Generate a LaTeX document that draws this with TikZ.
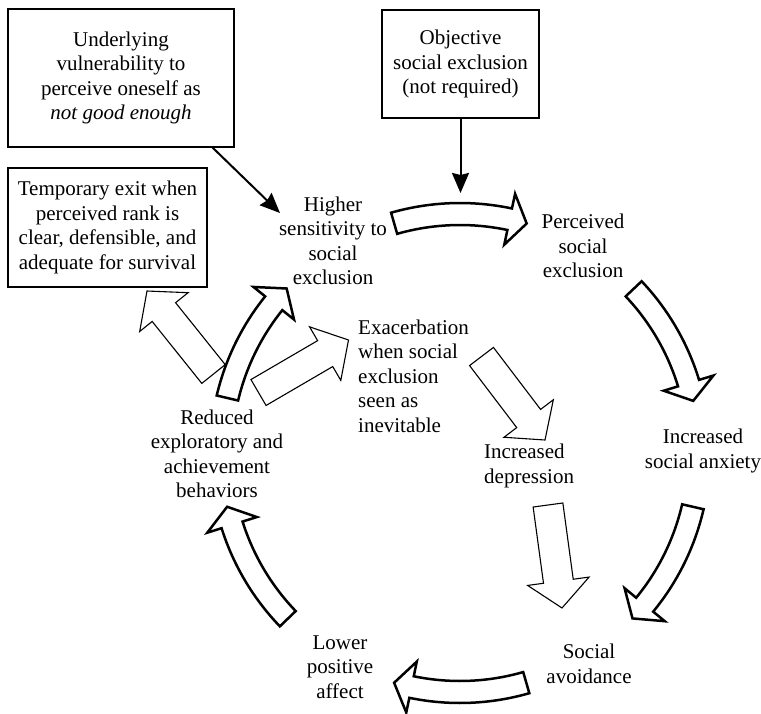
\documentclass[tikz,border=0pt]{standalone}
\usepackage{fontspec}
\setmainfont{Liberation Serif}
\usetikzlibrary{calc,arrows.meta}

\tikzset{
  box/.style={draw, line width=1.2pt, align=center, inner sep=0pt},
  lbl/.style={align=center, inner sep=0pt},
  lbll/.style={align=left, inner sep=0pt},
  cyc/.style={draw, fill=white, line width=2.5pt, line join=miter},
  side/.style={draw, fill=white, line width=1.1pt, line join=miter},
  feed/.style={line width=2pt, -{Stealth[length=20pt,width=17pt,inset=2pt]}}
}

% straight block arrow: #1 tail centre, #2 tip, #3 name of the head base
\newcommand\sidearrow[3]{%
  \coordinate (#3) at ($(#2)!27pt!(#1)$);
  \draw[side] ($(#1)!15pt!90:(#2)$) -- ($(#3)!15pt!90:(#2)$)
    -- ($(#3)!31pt!90:(#2)$) -- (#2) -- ($(#3)!31pt!-90:(#2)$)
    -- ($(#3)!15pt!-90:(#2)$) -- ($(#1)!15pt!-90:(#2)$) -- cycle;}

% curved block arrow on the cycle circle (centre 460,453):
% #1 tail angle, #2 head base angle, #3 tip angle
\newcommand\cyclearrow[3]{%
  \draw[cyc] plot[domain=0:1, samples=25]
      ({460+250*cos((#1)+((#2)-(#1))*\x)},{453+250*sin((#1)+((#2)-(#1))*\x)})
    -- ({460+265*cos(#2)},{453+265*sin(#2)})
    -- ({460+239*cos(#3)},{453+239*sin(#3)})
    -- ({460+213*cos(#2)},{453+213*sin(#2)})
    -- plot[domain=0:1, samples=25]
      ({460+228*cos((#2)+((#1)-(#2))*\x)},{453+228*sin((#2)+((#1)-(#2))*\x)})
    -- cycle;}

\begin{document}
\begin{tikzpicture}[x=1pt, y=-1pt, font=\fontsize{21}{24.5}\selectfont]
\useasboundingbox (0,0) rectangle (761,713);

% boxes
\node[box, minimum width=226pt, minimum height=138pt] (vuln) at (121,78)
  {Underlying\\ vulnerability to\\ perceive oneself as\\ \textit{not good enough}};
\node[box, minimum width=157pt, minimum height=108pt] (obj) at (460.5,64)
  {Objective\\ social exclusion\\ (not required)};
\node[box, minimum width=199pt, minimum height=119pt] (exit) at (107.5,227.5)
  {Temporary exit when\\ perceived rank is\\ clear, defensible, and\\ adequate for survival};

% cycle labels
\node[lbl] (higher) at (333,241) {Higher\\ sensitivity to\\ social\\ exclusion};
\node[lbl] (perc) at (583,246) {Perceived\\ social\\ exclusion};
\node[lbl] (anx) at (703,451) {Increased\\ social anxiety};
\node[lbl] (avoid) at (589,664) {Social\\ avoidance};
\node[lbl] (lower) at (340,667) {Lower\\ positive\\ affect};
\node[lbl] (reduced) at (217,454) {Reduced\\ exploratory and\\ achievement\\ behaviors};
\node[lbll, anchor=west] (exac) at (358,376) {Exacerbation\\ when social\\ exclusion\\ seen as\\ inevitable};
\node[lbll, anchor=west] (depr) at (484,466) {Increased\\ depression};

% side paths (thin block arrows)
\coordinate (exT) at (213.5,374);   \coordinate (exP) at (147,291);
\coordinate (acT) at (258.5,392.5); \coordinate (acP) at (348.5,340);
\coordinate (dpT) at (481.5,356.5); \coordinate (dpP) at (545,440);
\coordinate (avT) at (548,505);     \coordinate (avP) at (562,608);
\sidearrow{exT}{exP}{exB}
\sidearrow{acT}{acP}{acB}
\sidearrow{dpT}{dpP}{dpB}
\sidearrow{avT}{avP}{avB}

% the vicious cycle (thick curved block arrows)
\cyclearrow{-106}{-78}{-73.8}
\cyclearrow{-43.4}{-17}{-12.6}
\cyclearrow{13}{39.4}{43.8}
\cyclearrow{73.9}{101.7}{106}
\cyclearrow{136.1}{162.5}{167}
\cyclearrow{193.3}{218.8}{223.5}

% inputs into the cycle
\coordinate (hiIn) at (280,213);
\coordinate (perIn) at (460.5,193);
\draw[feed] ([xshift=-22pt]vuln.south east) -- (hiIn);
\draw[feed] (obj.south) -- (perIn);
\end{tikzpicture}
\end{document}
